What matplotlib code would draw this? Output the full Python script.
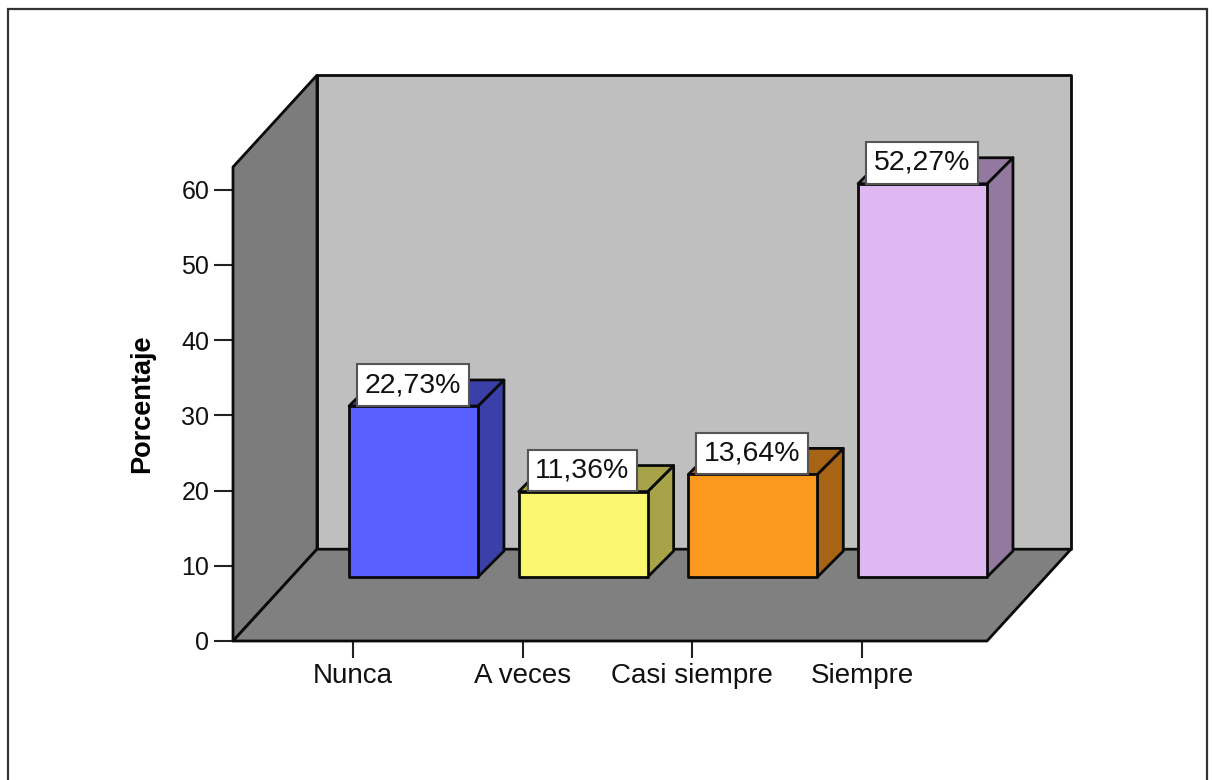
import matplotlib
matplotlib.use('Agg')
import matplotlib.pyplot as plt
from matplotlib.patches import Polygon, Rectangle
from matplotlib.colors import to_rgb

categories = ['Nunca', 'A veces', 'Casi siempre', 'Siempre']
percent = [22.73, 11.36, 13.64, 52.27]
labels = ['22,73%', '11,36%', '13,64%', '52,27%']
bar_colors = ['#5A60FF', '#FBF76E', '#FB981E', '#DFB8F2']
y_ticks = [0, 10, 20, 30, 40, 50, 60]

W, H = 1214, 780
plt.rcParams['font.family'] = ['Liberation Sans', 'DejaVu Sans']

fig = plt.figure(figsize=(W / 100, H / 100), dpi=100, facecolor='white')
fig.add_artist(Rectangle((8 / W, -0.05), 1199 / W, 1.05 - 9 / H, transform=fig.transFigure,
                         fill=False, edgecolor='#333333', linewidth=1.6))

# axes = front plane of the 3D box
ax = fig.add_axes([233 / W, 1 - 641 / H, 754 / W, 474 / H])
ax.set_xlim(-0.707, 3.737)
ax.set_ylim(0, 63)
ax.patch.set_visible(False)

# depth of the box in data units
DX, DY = 0.495, 12.2
x0, x1 = ax.get_xlim()
y0, y1 = ax.get_ylim()
EDGE = dict(edgecolor='#0a0a0a', linewidth=2, joinstyle='round', clip_on=False)


def poly(pts, color, z):
    ax.add_patch(Polygon(pts, closed=True, facecolor=color, zorder=z, **EDGE))


def darker(color, f=0.66):
    return tuple(c * f for c in to_rgb(color))


# walls
poly([(x0 + DX, y0 + DY), (x1 + DX, y0 + DY), (x1 + DX, y1 + DY), (x0 + DX, y1 + DY)], '#BFBFBF', 1)
poly([(x0, y0), (x0 + DX, y0 + DY), (x0 + DX, y1 + DY), (x0, y1)], '#7C7C7C', 2)
poly([(x0, y0), (x1, y0), (x1 + DX, y0 + DY), (x0 + DX, y0 + DY)], '#808080', 2)

# bars, standing part way back on the floor
BAR_W = 0.76
OFF_X, OFF_Y = 0.357, 8.5
SIDE_X, SIDE_Y = 0.153, 3.46
for i, (val, col, lab) in enumerate(zip(percent, bar_colors, labels)):
    left = i + OFF_X - BAR_W / 2
    right = i + OFF_X + BAR_W / 2
    base = OFF_Y
    top = OFF_Y + val
    z = 3 + i
    poly([(right, base), (right + SIDE_X, base + SIDE_Y), (right + SIDE_X, top + SIDE_Y), (right, top)],
         darker(col), z)
    poly([(left, top), (right, top), (right + SIDE_X, top + SIDE_Y), (left + SIDE_X, top + SIDE_Y)],
         darker(col), z)
    poly([(left, base), (right, base), (right, top), (left, top)], col, z)
    ax.text((left + right) / 2 - 0.005, top + 2.78, lab, ha='center', va='center', fontsize=20.5,
            color='#111111', zorder=20,
            bbox=dict(boxstyle='square,pad=0.27', facecolor='white', edgecolor='#555555', linewidth=1.5))

for s in ['top', 'right', 'left', 'bottom']:
    ax.spines[s].set_visible(False)
ax.set_xticks(range(len(categories)))
ax.set_xticklabels(categories, fontsize=20, color='#111111')
ax.set_yticks(y_ticks)
ax.tick_params(axis='x', length=12, width=1.5, pad=4, color='#222222')
ax.tick_params(axis='y', length=14, width=1.5, pad=3, labelsize=18, labelcolor='#111111', color='#222222')
ax.set_ylabel('Porcentaje', fontsize=19.5, fontweight='bold', labelpad=19)

fig.savefig('out.png', dpi=100)
